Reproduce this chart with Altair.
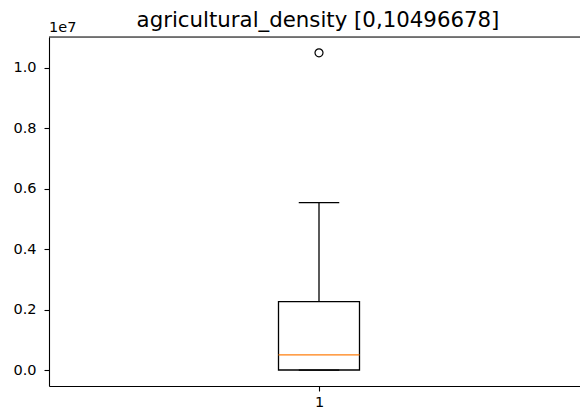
import altair as alt
import pandas as pd

# Box-plot summary of agricultural_density
positions = [1]
whisker_low = [0]
q1 = [5000]
median = [505000]
q3 = [2265000]
whisker_high = [5540000]
outliers = [10496678]

data_min = 0
data_max = 10496678
title_text = "agricultural_density [0,10496678]"

box_w = 0.15
cap_w = box_w / 2

stats = pd.DataFrame({
    "pos": positions,
    "lo": whisker_low,
    "q1": q1,
    "med": median,
    "q3": q3,
    "hi": whisker_high,
})
stats["bx1"] = stats["pos"] - box_w / 2
stats["bx2"] = stats["pos"] + box_w / 2
stats["cx1"] = stats["pos"] - cap_w / 2
stats["cx2"] = stats["pos"] + cap_w / 2

fliers = pd.DataFrame({"pos": positions * len(outliers), "val": outliers})

span = data_max - data_min
y_dom = [data_min - 0.05 * span, data_max + 0.05 * span]
# axes span 540 px for x in [0.5, 1.5]; the visible part ends at 531 px
x_dom = [0.5, 0.5 + 531 / 540]

W, H = 531, 349
axis_col = "#000000"
font = "DejaVu Sans"

xs = alt.Scale(domain=x_dom, nice=False, zero=False)
ys = alt.Scale(domain=y_dom, nice=False, zero=False)

x_axis = alt.Axis(values=[1], labelExpr="format(datum.value, 'd')", grid=False,
                  title=None, domainColor=axis_col, tickColor=axis_col,
                  labelColor="#000", labelFont=font, labelFontSize=14.5,
                  tickSize=5, labelPadding=4, domainWidth=1.1, tickWidth=1.1)
y_axis = alt.Axis(values=[0, 2e6, 4e6, 6e6, 8e6, 1e7],
                  labelExpr="format(datum.value / 1e7, '.1f')", grid=False,
                  title=None, domainColor=axis_col, tickColor=axis_col,
                  labelColor="#000", labelFont=font, labelFontSize=14.5,
                  tickSize=5, labelPadding=8, domainWidth=1.1, tickWidth=1.1)

base = alt.Chart(stats)

box = base.mark_rect(fill=None, stroke="black", strokeWidth=1.3, filled=False).encode(
    x=alt.X("bx1:Q", scale=xs, axis=x_axis),
    x2="bx2:Q",
    y=alt.Y("q1:Q", scale=ys, axis=y_axis),
    y2="q3:Q",
)

whisk_lo = base.mark_rule(color="black", strokeWidth=1.3).encode(
    x=alt.X("pos:Q", scale=xs), y=alt.Y("lo:Q", scale=ys), y2="q1:Q")
whisk_hi = base.mark_rule(color="black", strokeWidth=1.3).encode(
    x=alt.X("pos:Q", scale=xs), y=alt.Y("q3:Q", scale=ys), y2="hi:Q")
cap_lo = base.mark_rule(color="black", strokeWidth=1.3).encode(
    x=alt.X("cx1:Q", scale=xs), x2="cx2:Q", y=alt.Y("lo:Q", scale=ys))
cap_hi = base.mark_rule(color="black", strokeWidth=1.3).encode(
    x=alt.X("cx1:Q", scale=xs), x2="cx2:Q", y=alt.Y("hi:Q", scale=ys))
med = base.mark_rule(color="#ff7f0e", strokeWidth=1.3).encode(
    x=alt.X("bx1:Q", scale=xs), x2="bx2:Q", y=alt.Y("med:Q", scale=ys))

flier = alt.Chart(fliers).mark_point(shape="circle", filled=False, color="black",
                                     size=64, strokeWidth=1.2, opacity=1).encode(
    x=alt.X("pos:Q", scale=xs), y=alt.Y("val:Q", scale=ys))

top_spine = base.mark_rule(color=axis_col, strokeWidth=1.1).encode(
    x=alt.value(0), x2=alt.value(W), y=alt.value(0))

offset_text = base.mark_text(text="1e7", align="left", baseline="alphabetic",
                             font=font, fontSize=14.5, color="#000").encode(
    x=alt.value(0), y=alt.value(-5))

# title centred over the full 540 px axes
title_mark = base.mark_text(text=title_text, align="center", baseline="alphabetic",
                            font=font, fontSize=21.3, color="#000").encode(
    x=alt.value(269), y=alt.value(-10))

chart = alt.layer(box, whisk_lo, whisk_hi, cap_lo, cap_hi, med, flier, top_spine,
                  offset_text, title_mark).properties(
    width=W, height=H,
    autosize=alt.AutoSizeParams(type="none"),
    padding={"left": 49, "top": 37, "right": 0, "bottom": 24},
).configure_view(stroke=None).configure(background="white")

chart.save("out.html", embed_options={"renderer": "svg", "actions": False})
